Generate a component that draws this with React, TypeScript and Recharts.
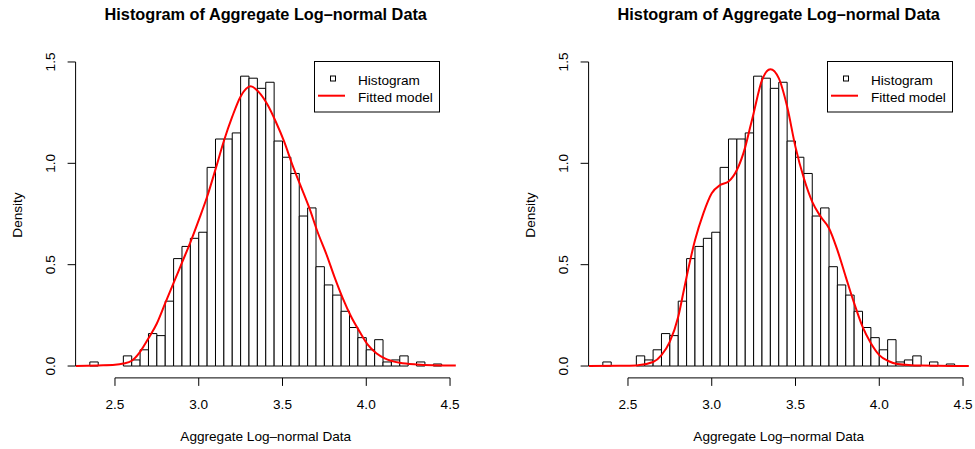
import { ComposedChart, Line, XAxis, YAxis, ReferenceArea, ReferenceLine, Legend } from "recharts";

// ── Data ─────────────────────────────────────────────────────────────────────

// histogram bin edges (width 0.05) and the density of each bin
const binEdges = [
  2.35, 2.4, 2.45, 2.5, 2.55, 2.6, 2.65, 2.7, 2.75, 2.8, 2.85, 2.9, 2.95, 3.0, 3.05,
  3.1, 3.15, 3.2, 3.25, 3.3, 3.35, 3.4, 3.45, 3.5, 3.55, 3.6, 3.65, 3.7, 3.75, 3.8,
  3.85, 3.9, 3.95, 4.0, 4.05, 4.1, 4.15, 4.2, 4.25, 4.3, 4.35, 4.4, 4.45,
];
const density = [
  0.02, 0, 0, 0, 0.05, 0.03, 0.08, 0.16, 0.15, 0.32, 0.53, 0.59, 0.63, 0.66, 0.98,
  1.12, 1.12, 1.15, 1.43, 1.42, 1.37, 1.4, 1.11, 1.03, 0.95, 0.74, 0.78, 0.49, 0.4, 0.35,
  0.27, 0.19, 0.14, 0.08, 0.13, 0.02, 0.03, 0.05, 0, 0.02, 0, 0.01,
];

// fitted model, left panel (single log-normal)
const fitLeftX = [
  2.265, 2.4, 2.5, 2.55, 2.6, 2.65, 2.7, 2.75, 2.8, 2.85, 2.9, 2.95, 3.0, 3.05, 3.1,
  3.15, 3.2, 3.25, 3.31, 3.36, 3.41, 3.46, 3.51, 3.56, 3.61, 3.66, 3.71, 3.76, 3.81,
  3.86, 3.91, 3.96, 4.01, 4.06, 4.11, 4.2, 4.3, 4.535,
];
const fitLeftY = [
  0, 0.003, 0.006, 0.012, 0.026, 0.07, 0.137, 0.21, 0.31, 0.41, 0.51, 0.61, 0.72, 0.835, 0.97,
  1.11, 1.23, 1.33, 1.38, 1.35, 1.29, 1.205, 1.107, 0.99, 0.885, 0.78, 0.66, 0.556, 0.44,
  0.334, 0.243, 0.17, 0.104, 0.063, 0.038, 0.016, 0.008, 0.002,
];

// fitted model, right panel (mixture)
const fitRightX = [
  2.265, 2.45, 2.55, 2.65, 2.7, 2.75, 2.8, 2.83, 2.85, 2.9, 2.95, 3.0, 3.05, 3.1, 3.15,
  3.2, 3.23, 3.25, 3.3, 3.35, 3.4, 3.45, 3.5, 3.55, 3.6, 3.65, 3.7, 3.75, 3.8, 3.85,
  3.9, 3.95, 4.0, 4.05, 4.11, 4.25, 4.535,
];
const fitRightY = [
  0, 0.001, 0.003, 0.02, 0.054, 0.12, 0.243, 0.36, 0.44, 0.62, 0.753, 0.852, 0.893, 0.91, 0.967,
  1.08, 1.18, 1.247, 1.41, 1.464, 1.42, 1.28, 1.08, 0.926, 0.81, 0.737, 0.68, 0.572, 0.44, 0.31,
  0.194, 0.112, 0.054, 0.026, 0.01, 0.002, 0,
];

const xTicks = [2.5, 3.0, 3.5, 4.0, 4.5];
const yTicks = [0, 0.5, 1.0, 1.5];

const TITLE = "Histogram of Aggregate Log\u2013normal Data";
const X_TITLE = "Aggregate Log\u2013normal Data";
const Y_TITLE = "Density";

// ── Layout ───────────────────────────────────────────────────────────────────

const W = 462;
const H = 449;
const FONT = "'Liberation Sans', Arial, Helvetica, sans-serif";
const FS = 13.6;
const X_DOMAIN: [number, number] = [2.265, 4.535];
const Y_DOMAIN: [number, number] = [-0.0586, 1.5226];
const PLOT_L = 75.6;
const PLOT_R = 455.9;
const PLOT_T = 57.4;
const PLOT_B = 377.9;

const bins = density.map((d, i) => ({ x1: binEdges[i], x2: binEdges[i + 1], d }));
const fitLeft = fitLeftX.map((x, i) => ({ x, y: fitLeftY[i] }));
const fitRight = fitRightX.map((x, i) => ({ x, y: fitRightY[i] }));

function YTick(props: any) {
  const { x, y, payload } = props;
  return (
    <text
      x={x}
      y={y}
      transform={`rotate(-90 ${x} ${y})`}
      textAnchor="middle"
      fill="#000"
      fontSize={FS}
      fontFamily={FONT}
    >
      {Number(payload.value).toFixed(1)}
    </text>
  );
}

function LegendBox() {
  return (
    <svg width={126} height={52} style={{ display: "block" }}>
      <rect x={0.5} y={0.5} width={125} height={50.5} fill="#fff" stroke="#000" strokeWidth={1} />
      <rect x={16.5} y={15} width={5} height={5} fill="none" stroke="#000" strokeWidth={1} />
      <line x1={4} x2={31} y1={34.7} y2={34.7} stroke="#ff0000" strokeWidth={2} />
      <text x={44} y={23.5} fontSize={FS} fontFamily={FONT} fill="#000">Histogram</text>
      <text x={44} y={40.5} fontSize={FS} fontFamily={FONT} fill="#000">Fitted model</text>
    </svg>
  );
}

function Panel({ left, fit }: { left: number; fit: { x: number; y: number }[] }) {
  const cx = (PLOT_L + PLOT_R) / 2;
  const cy = 215;
  return (
    <div style={{ position: "absolute", left, top: 0, width: W, height: H }}>
      <ComposedChart
        width={W}
        height={H}
        margin={{ top: PLOT_T, right: W - PLOT_R, bottom: H - PLOT_B - 40, left: PLOT_L - 40 }}
      >
        <XAxis
          type="number"
          dataKey="x"
          domain={X_DOMAIN}
          allowDataOverflow
          ticks={xTicks}
          interval={0}
          tickFormatter={(v) => Number(v).toFixed(1)}
          axisLine={false}
          tickSize={8}
          tickMargin={13.6}
          tickLine={{ stroke: "#000" }}
          tick={{ fill: "#000", fontSize: FS, fontFamily: FONT }}
          height={40}
        />
        <YAxis
          type="number"
          domain={Y_DOMAIN}
          allowDataOverflow
          ticks={yTicks}
          interval={0}
          axisLine={false}
          tickSize={8}
          tickMargin={12.6}
          tickLine={{ stroke: "#000" }}
          tick={<YTick />}
          width={40}
        />
        {bins.map((b) => (
          <ReferenceArea
            key={b.x1}
            x1={b.x1}
            x2={b.x2}
            y1={0}
            y2={b.d}
            fill="#fff"
            fillOpacity={1}
            stroke="#000"
            strokeWidth={1}
            strokeOpacity={1}
            ifOverflow="visible"
          />
        ))}
        <ReferenceLine
          segment={[{ x: 2.5, y: Y_DOMAIN[0] }, { x: 4.5, y: Y_DOMAIN[0] }]}
          stroke="#000"
          strokeWidth={1}
          ifOverflow="visible"
        />
        <ReferenceLine
          segment={[{ x: X_DOMAIN[0], y: 0 }, { x: X_DOMAIN[0], y: 1.5 }]}
          stroke="#000"
          strokeWidth={1}
          ifOverflow="visible"
        />
        <Line
          data={fit}
          dataKey="y"
          type="monotone"
          stroke="#ff0000"
          strokeWidth={2}
          dot={false}
          activeDot={false}
          isAnimationActive={false}
        />
        <Legend
          layout="vertical"
          align="center"
          verticalAlign="middle"
          content={<LegendBox />}
          wrapperStyle={{ left: 314, top: 61, width: 126, height: 52 }}
        />
      </ComposedChart>
      <svg
        width={W}
        height={H}
        style={{ position: "absolute", left: 0, top: 0, pointerEvents: "none" }}
      >
        <text x={cx} y={20} textAnchor="middle" fontSize={16.3} fontWeight="bold" fontFamily={FONT} fill="#000">
          {TITLE}
        </text>
        <text x={cx} y={441} textAnchor="middle" fontSize={FS} fontFamily={FONT} fill="#000">
          {X_TITLE}
        </text>
        <text
          x={21.5}
          y={cy}
          transform={`rotate(-90 21.5 ${cy})`}
          textAnchor="middle"
          fontSize={FS}
          fontFamily={FONT}
          fill="#000"
        >
          {Y_TITLE}
        </text>
      </svg>
    </div>
  );
}

export default function App() {
  return (
    <div style={{ position: "absolute", left: 0, top: 0, width: 975, height: 449, background: "#fff" }}>
      <Panel left={0} fit={fitLeft} />
      <Panel left={513.3} fit={fitRight} />
    </div>
  );
}
